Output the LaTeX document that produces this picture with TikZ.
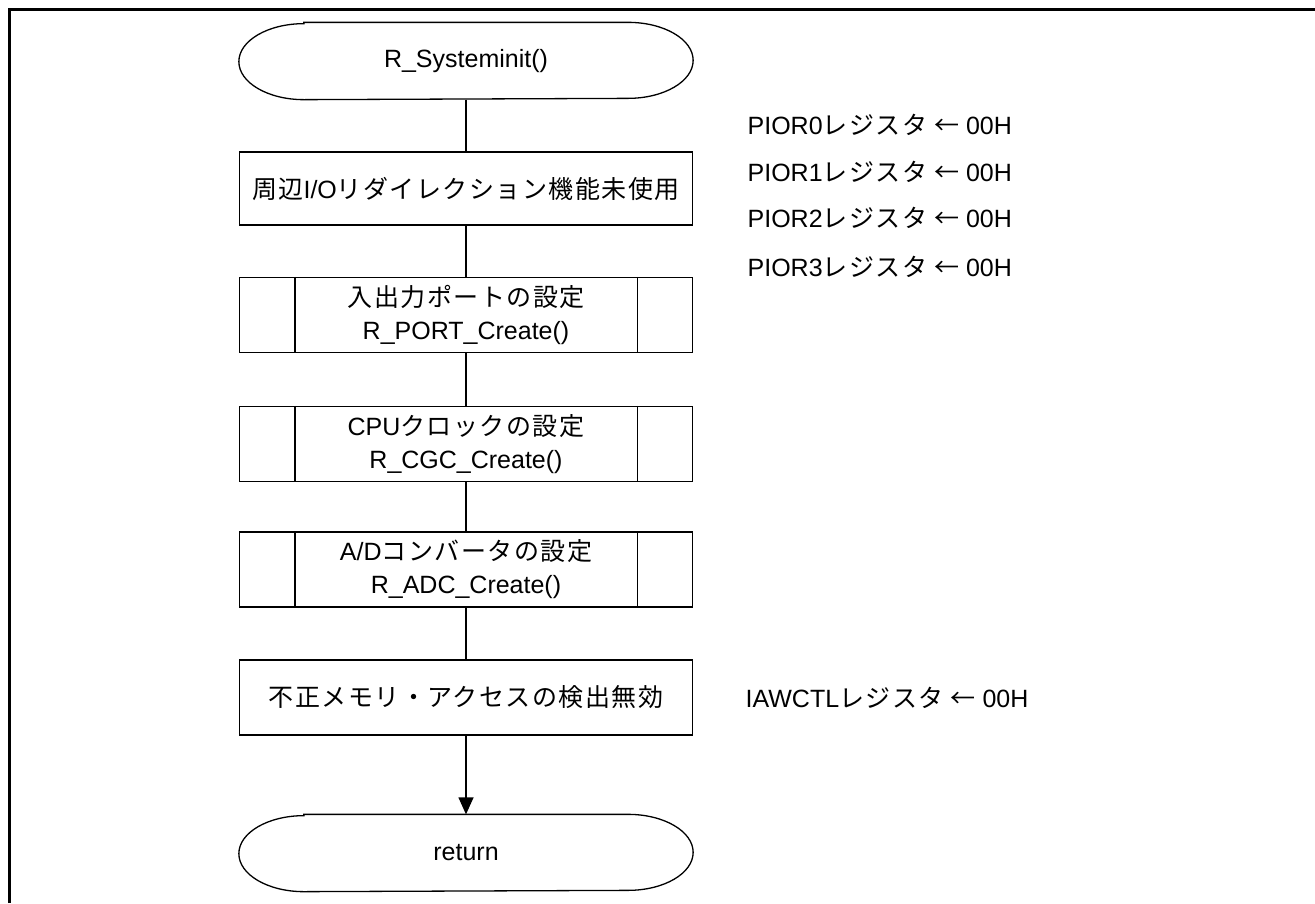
\documentclass[tikz,border=0pt]{standalone}
\usepackage{fontspec}
\setmainfont{Liberation Sans}
\newfontfamily\jpfont[LetterSpace=6]{Noto Sans CJK JP}
\newcommand\J[1]{{\jpfont #1}}
\usetikzlibrary{arrows.meta,calc}
\newcommand\drawterm[1]{%
  \draw ($(#1.north west)+(65,0)$) -- ($(#1.north east)+(-65,0)$)
    arc[start angle=90,end angle=-90,x radius=65,y radius=38]
    -- ($(#1.south west)+(65,0)$)
    arc[start angle=270,end angle=90,x radius=65,y radius=38] -- cycle;}
\newcommand\subbars[1]{%
  \draw ($(#1.north west)+(56,0)$) -- ($(#1.south west)+(56,0)$);
  \draw ($(#1.north east)+(-56,0)$) -- ($(#1.south east)+(-56,0)$);}
\begin{document}
\begin{tikzpicture}[x=1pt,y=1pt,line width=1.3pt,
  font=\fontsize{25}{33}\selectfont,
  box/.style={draw,minimum width=453,minimum height=75,inner sep=0pt,align=center},
  term/.style={minimum width=453,minimum height=76,inner sep=0pt},
  note/.style={anchor=west,inner sep=0pt},
  flow/.style={line width=1.3pt}]
\useasboundingbox (0,0) rectangle (1315,-903);
\draw[line width=3pt] (9.5,-903) -- (9.5,-9.5) -- (1315,-9.5);

\node[term] (start) at (466,-61) {R\_Systeminit()};
\drawterm{start}
\node[box,minimum height=73] (b1) at (466,-188.5) {\J{周辺}I/O\J{リダイレクション機能未使用}};
\node[box] (b2) at (466,-315) {\J{入出力ポートの設定}\\R\_PORT\_Create()};
\subbars{b2}
\node[box] (b3) at (466,-444) {CPU\J{クロックの設定}\\R\_CGC\_Create()};
\subbars{b3}
\node[box] (b4) at (466,-569.5) {A/D\J{コンバータの設定}\\R\_ADC\_Create()};
\subbars{b4}
\node[box] (b5) at (466,-697.5) {\J{不正メモリ・アクセスの検出無効}};
\node[term] (ret) at (466,-853) {return};
\drawterm{ret}

\draw[flow] (start) -- (b1);
\draw[flow] (b1) -- (b2);
\draw[flow] (b2) -- (b3);
\draw[flow] (b3) -- (b4);
\draw[flow] (b4) -- (b5);
\draw[flow,-{Triangle[length=17pt,width=15pt]}] (b5) -- (ret);

\node[note] (n0) at (747,-125) {PIOR0\J{レジスタ} \J{←} 00H};
\node[note] (n1) at (747,-172) {PIOR1\J{レジスタ} \J{←} 00H};
\node[note] (n2) at (747,-218) {PIOR2\J{レジスタ} \J{←} 00H};
\node[note] (n3) at (747,-267) {PIOR3\J{レジスタ} \J{←} 00H};
\node[note] (n4) at (745,-698) {IAWCTL\J{レジスタ} \J{←} 00H};
\end{tikzpicture}
\end{document}
